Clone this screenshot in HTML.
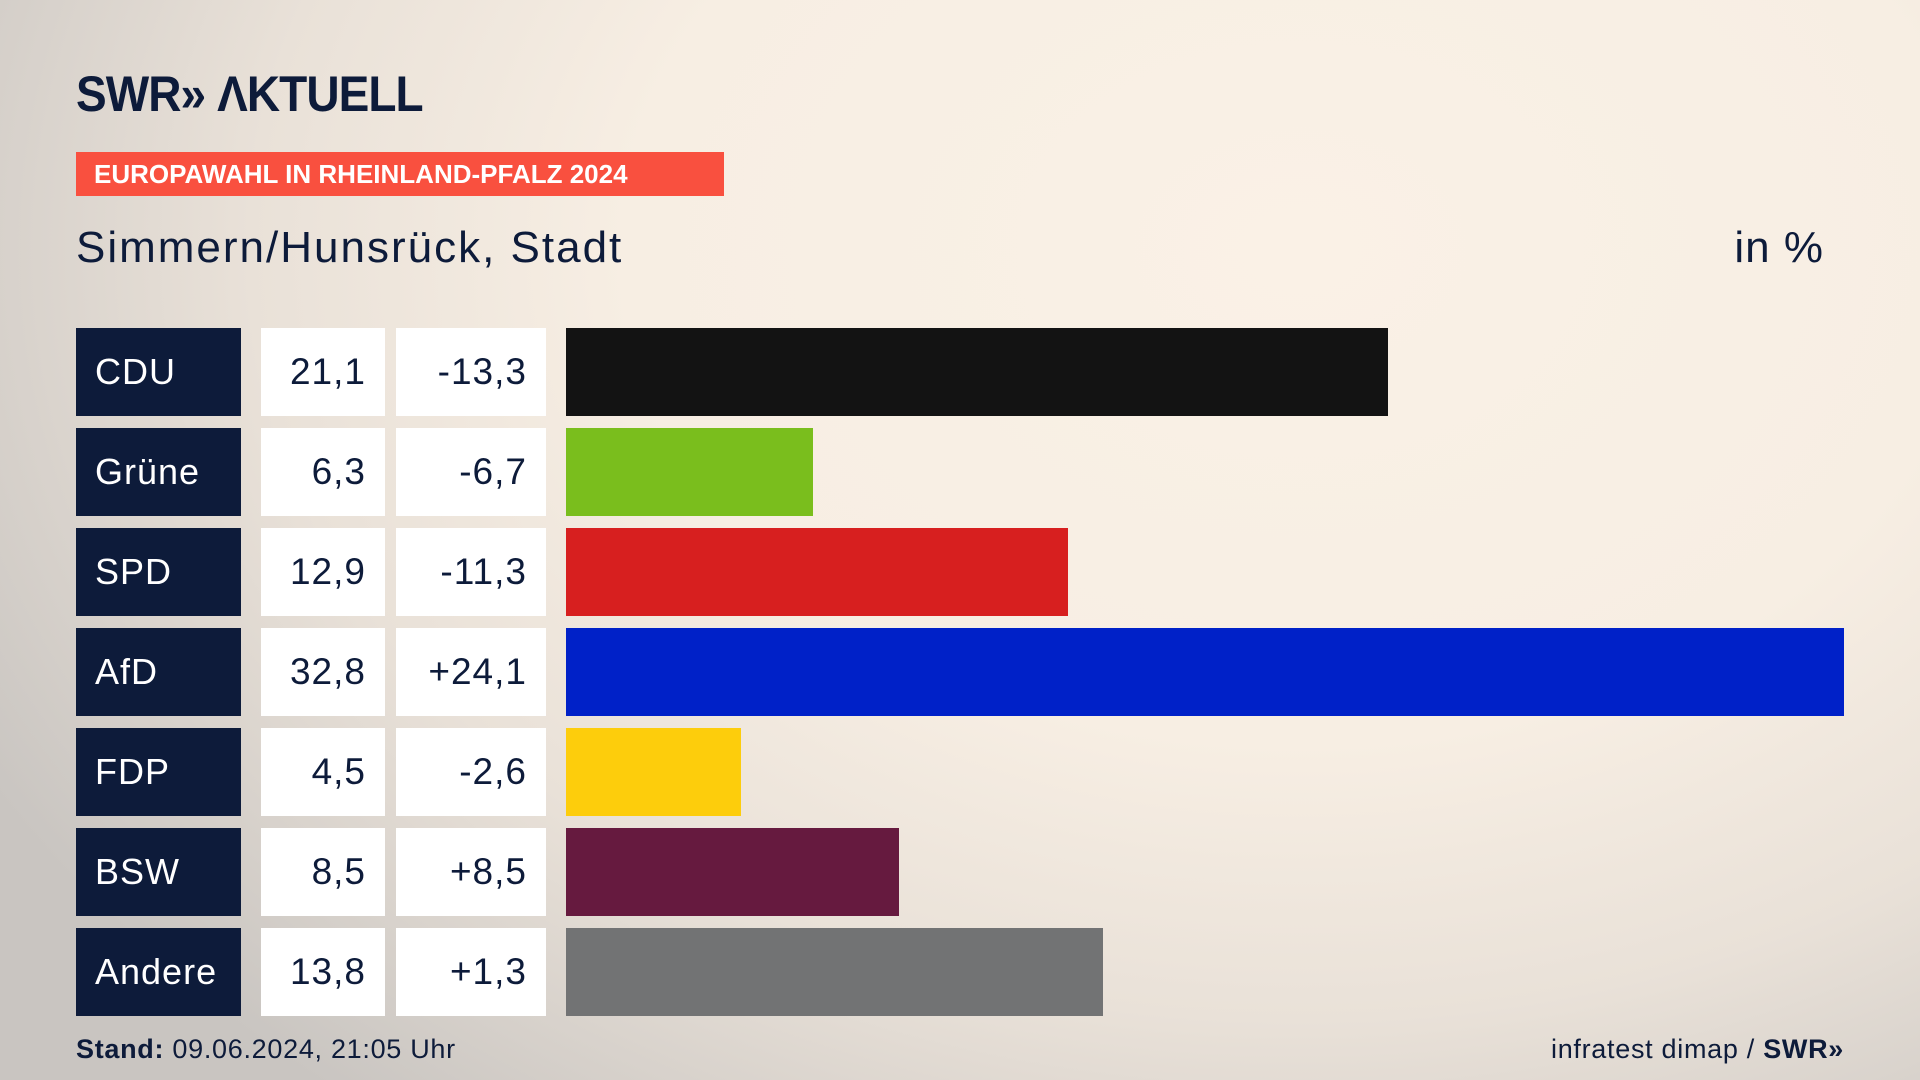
<!DOCTYPE html>
<html><head><meta charset="utf-8"><style>
*{margin:0;padding:0;box-sizing:border-box}
body{width:1920px;height:1080px;overflow:hidden;position:relative;font-family:"Liberation Sans","DejaVu Sans",sans-serif;color:#0d1b3a;
background:radial-gradient(ellipse 1500px 1100px at 1300px 250px,#faf1e6 0%,#f7eee3 45%,#e9e1d8 70%,#c9c5c1 100%);}
.abs{position:absolute}
.logo{left:76px;top:66px;font-size:50px;font-weight:bold;letter-spacing:-1px;color:#0d1b3a;line-height:56px;transform:scaleX(0.92);transform-origin:left}
.banner{left:76px;top:152px;width:648px;height:44px;background:#f9503f;color:#fff;font-weight:bold;font-size:26px;line-height:44px;padding-left:18px;white-space:nowrap}
.title{left:76px;top:220px;font-size:44px;line-height:56px;letter-spacing:2px}
.unit{right:96px;top:220px;font-size:44px;line-height:56px;letter-spacing:1px}
.row{position:absolute;left:0;height:88px;width:1920px}
.name{position:absolute;left:76px;width:165px;height:88px;background:#0d1b3a;color:#fff;font-size:36px;line-height:88px;padding-left:19px;letter-spacing:1px}
.val{position:absolute;left:261px;width:124px;height:88px;background:#fff;font-size:37px;line-height:88px;text-align:right;padding-right:19px;letter-spacing:1px}
.dif{position:absolute;left:396px;width:150px;height:88px;background:#fff;font-size:37px;line-height:88px;text-align:right;padding-right:19px;letter-spacing:1px}
.bar{position:absolute;left:566px;height:88px}
.foot{top:1032px;font-size:27px;line-height:34px;letter-spacing:0.7px}
</style></head><body>
<div class="abs logo">SWR» ΛKTUELL</div>
<div class="abs banner">EUROPAWAHL IN RHEINLAND-PFALZ 2024</div>
<div class="abs title">Simmern/Hunsrück, Stadt</div>
<div class="abs unit">in %</div>

<div class="row" style="top:328px"><div class="name">CDU</div><div class="val">21,1</div><div class="dif">-13,3</div><div class="bar" style="width:822px;background:#131313"></div></div>
<div class="row" style="top:428px"><div class="name">Grüne</div><div class="val">6,3</div><div class="dif">-6,7</div><div class="bar" style="width:247px;background:#7abe1d"></div></div>
<div class="row" style="top:528px"><div class="name">SPD</div><div class="val">12,9</div><div class="dif">-11,3</div><div class="bar" style="width:502px;background:#d71f1f"></div></div>
<div class="row" style="top:628px"><div class="name">AfD</div><div class="val">32,8</div><div class="dif">+24,1</div><div class="bar" style="width:1278px;background:#0021c8"></div></div>
<div class="row" style="top:728px"><div class="name">FDP</div><div class="val">4,5</div><div class="dif">-2,6</div><div class="bar" style="width:175px;background:#fdcd0c"></div></div>
<div class="row" style="top:828px"><div class="name">BSW</div><div class="val">8,5</div><div class="dif">+8,5</div><div class="bar" style="width:333px;background:#661a3f"></div></div>
<div class="row" style="top:928px"><div class="name">Andere</div><div class="val">13,8</div><div class="dif">+1,3</div><div class="bar" style="width:537px;background:#727374"></div></div>

<div class="abs foot" style="left:76px"><b>Stand:</b> 09.06.2024, 21:05 Uhr</div>
<div class="abs foot" style="right:76px">infratest dimap / <b>SWR»</b></div>
</body></html>
